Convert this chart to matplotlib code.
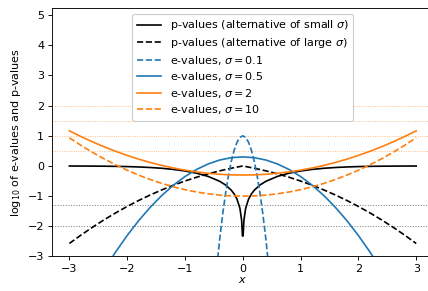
import matplotlib
matplotlib.use("Agg")
import matplotlib.pyplot as plt

# ---- data ----
x_grid = [-3.0, -2.8, -2.6, -2.4, -2.2, -2.0, -1.8, -1.6, -1.4, -1.2, -1.0,
          -0.8, -0.6, -0.4, -0.2, 0.0, 0.2, 0.4, 0.6, 0.8, 1.0,
          1.2, 1.4, 1.6, 1.8, 2.0, 2.2, 2.4, 2.6, 2.8, 3.0]

x_p_small = [-3.0, -2.8, -2.6, -2.4, -2.2, -2.0, -1.8, -1.6, -1.4, -1.2, -1.0,
             -0.8, -0.6, -0.4, -0.3, -0.2, -0.15, -0.1, -0.05, -0.02, -0.006,
             0.006, 0.02, 0.05, 0.1, 0.15, 0.2, 0.3, 0.4, 0.6, 0.8,
             1.0, 1.2, 1.4, 1.6, 1.8, 2.0, 2.2, 2.4, 2.6, 2.8, 3.0]
p_small = [-0.0012, -0.0022, -0.0041, -0.0072, -0.0122, -0.0202, -0.0324, -0.0504, -0.0765, -0.1136, -0.166,
           -0.239, -0.345, -0.5075, -0.627, -0.800, -0.924, -1.099, -1.399, -1.797, -2.32,
           -2.32, -1.797, -1.399, -1.099, -0.924, -0.800, -0.627, -0.5075, -0.345, -0.239,
           -0.166, -0.1136, -0.0765, -0.0504, -0.0324, -0.0202, -0.0122, -0.0072, -0.0041, -0.0022, -0.0012]

p_large = [-2.569, -2.292, -2.031, -1.785, -1.556, -1.342, -1.143, -0.960, -0.792, -0.638, -0.4985,
           -0.373, -0.2608, -0.1617, -0.075, 0.0, -0.075, -0.1617, -0.2608, -0.373, -0.4985,
           -0.638, -0.792, -0.960, -1.143, -1.342, -1.556, -1.785, -2.031, -2.292, -2.569]

x_e01 = [-0.45, -0.4, -0.35, -0.3, -0.25, -0.2, -0.15, -0.1, -0.05, 0.0,
         0.05, 0.1, 0.15, 0.2, 0.25, 0.3, 0.35, 0.4, 0.45]
e_01 = [-3.353, -2.439, -1.633, -0.9346, -0.3435, 0.1402, 0.5163, 0.785, 0.9463, 1.0,
        0.9463, 0.785, 0.5163, 0.1402, -0.3435, -0.9346, -1.633, -2.439, -3.353]

e_05 = [-5.562, -4.806, -4.103, -3.451, -2.852, -2.305, -1.810, -1.367, -0.976, -0.637, -0.350,
        -0.116, 0.0665, 0.197, 0.275, 0.301, 0.275, 0.197, 0.0665, -0.116, -0.350,
        -0.637, -0.976, -1.367, -1.810, -2.305, -2.852, -3.451, -4.103, -4.806, -5.562]

e_2 = [1.1647, 0.9758, 0.7999, 0.6370, 0.4872, 0.3504, 0.2266, 0.1159, 0.0182, -0.0665, -0.1382,
       -0.1968, -0.2424, -0.2750, -0.2945, -0.301, -0.2945, -0.2750, -0.2424, -0.1968, -0.1382,
       -0.0665, 0.0182, 0.1159, 0.2266, 0.3504, 0.4872, 0.6370, 0.7999, 0.9758, 1.1647]

e_10 = [0.9348, 0.6854, 0.4533, 0.2383, 0.0405, -0.1401, -0.3035, -0.4497, -0.5786, -0.6904, -0.7850,
        -0.8624, -0.9226, -0.9656, -0.9914, -1.0, -0.9914, -0.9656, -0.9226, -0.8624, -0.7850,
        -0.6904, -0.5786, -0.4497, -0.3035, -0.1401, 0.0405, 0.2383, 0.4533, 0.6854, 0.9348]

e_thresholds = [0.5, 1.0, 1.5, 2.0]
p_thresholds = [-1.301, -2.0]

labels = ["p-values (alternative of small $\\sigma$)",
          "p-values (alternative of large $\\sigma$)",
          "e-values, $\\sigma=0.1$",
          "e-values, $\\sigma=0.5$",
          "e-values, $\\sigma=2$",
          "e-values, $\\sigma=10$"]

# ---- figure ----
fig = plt.figure(figsize=(5.35, 3.6375), dpi=80)
ax = fig.add_axes([0.1215, 0.1186, 1.013 - 0.1215, 0.9708 - 0.1186])

for t in e_thresholds:
    ax.axhline(t, color="#ff7f0e", ls=":", lw=0.8, alpha=0.6, zorder=1)
for t in p_thresholds:
    ax.axhline(t, color="gray", ls=":", lw=0.9, zorder=1)

ax.plot(x_p_small, p_small, color="black", ls="-", label=labels[0])
ax.plot(x_grid, p_large, color="black", ls="--", label=labels[1])
ax.plot(x_e01, e_01, color="#1f77b4", ls="--", label=labels[2])
ax.plot(x_grid, e_05, color="#1f77b4", ls="-", label=labels[3])
ax.plot(x_grid, e_2, color="#ff7f0e", ls="-", label=labels[4])
ax.plot(x_grid, e_10, color="#ff7f0e", ls="--", label=labels[5])

ax.set_xlim(-3.3, 3.3)
ax.set_ylim(-3, 5.22)
ax.set_xticks([-3, -2, -1, 0, 1, 2, 3])
ax.set_yticks([-3, -2, -1, 0, 1, 2, 3, 4, 5])
ax.set_xlabel("$x$", labelpad=1)
ax.set_ylabel("log$_{10}$ of e-values and p-values")
ax.legend(loc="upper center", framealpha=1, labelspacing=0.32,
          handlelength=2.15)

fig.savefig("out.png", dpi=80)
